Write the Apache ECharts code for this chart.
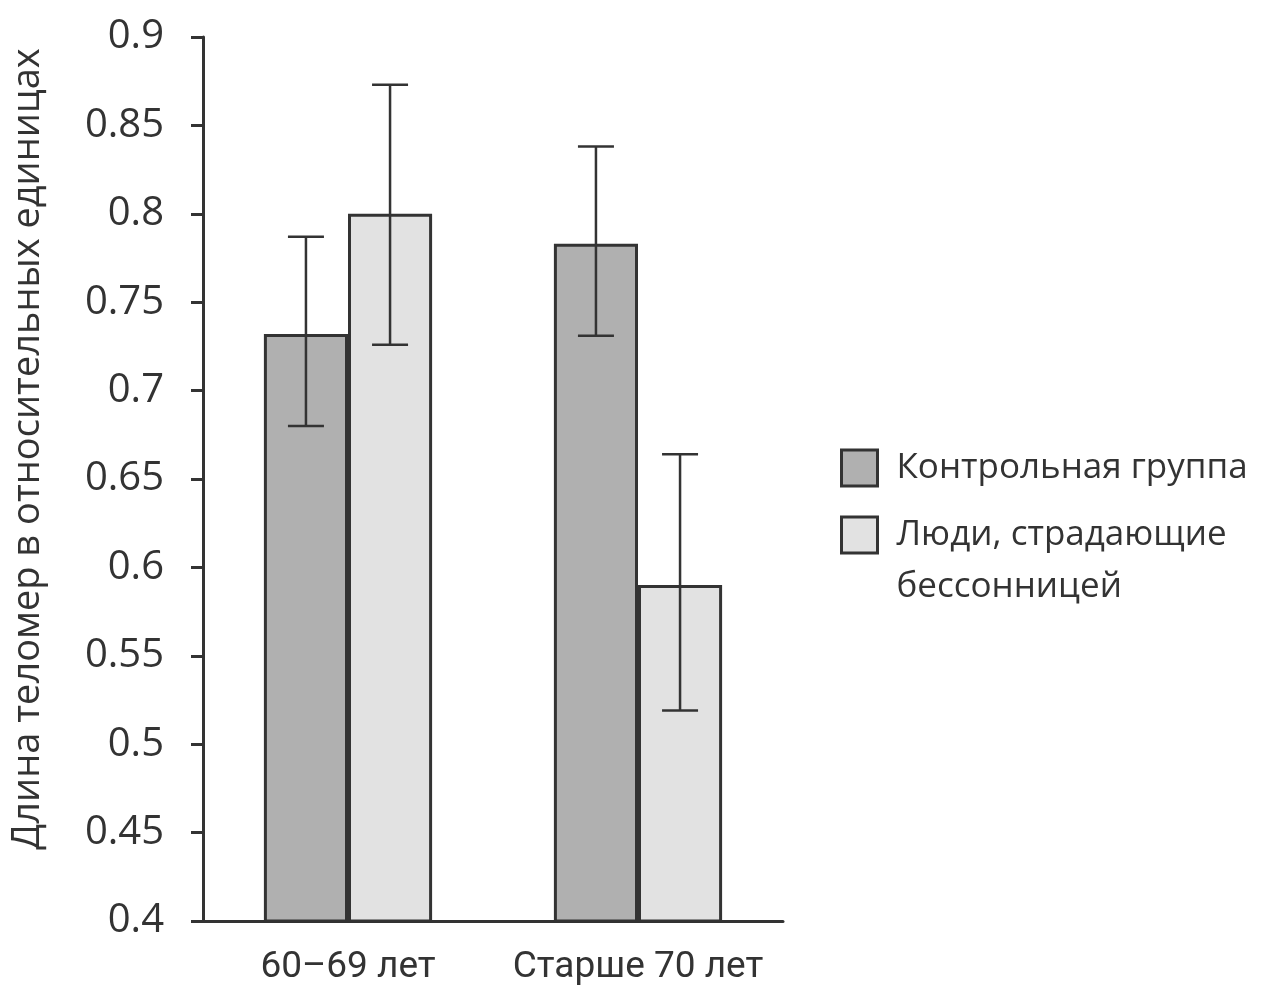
<!DOCTYPE html>
<html>
<head>
<meta charset="utf-8">
<script src="https://cdn.jsdelivr.net/npm/echarts@6/dist/echarts.min.js"></script>
<style>
html,body{margin:0;padding:0;background:#fff;}
#c{width:1266px;height:989px;}
</style>
</head>
<body>
<div id="c"></div>
<script>
const categories = ['60–69 лет', 'Старше 70 лет'];
const seriesNames = ['Контрольная группа', 'Люди, страдающие\nбессонницей'];
const controlValues = [0.732, 0.783];
const controlLow = [0.680, 0.731];
const controlHigh = [0.787, 0.838];
const insomniaValues = [0.800, 0.590];
const insomniaLow = [0.726, 0.519];
const insomniaHigh = [0.873, 0.664];
const yTicks = [0.4, 0.45, 0.5, 0.55, 0.6, 0.65, 0.7, 0.75, 0.8, 0.85, 0.9];
const yAxisTitle = 'Длина теломер в относительных единицах';

const BAR_FRAC = 0.29;
const colors = ['#b0b0b0', '#e2e2e2'];

function errData(low, high) {
  return low.map((l, i) => [i, l, high[i]]);
}
function makeErr(sIdx) {
  return function (params, api) {
    const ci = api.value(0);
    const center = api.coord([ci, 0])[0];
    const band = api.size([1, 0])[0];
    const bw = band * BAR_FRAC;
    const x = center + (sIdx === 0 ? -bw / 2 : bw / 2);
    const yl = api.coord([ci, api.value(1)])[1];
    const yh = api.coord([ci, api.value(2)])[1];
    const cap = 18;
    const st = { stroke: '#333', lineWidth: 2.5, fill: null };
    return {
      type: 'group',
      children: [
        { type: 'line', shape: { x1: x, y1: yl, x2: x, y2: yh }, style: st },
        { type: 'line', shape: { x1: x - cap, y1: yh, x2: x + cap, y2: yh }, style: st },
        { type: 'line', shape: { x1: x - cap, y1: yl, x2: x + cap, y2: yl }, style: st }
      ]
    };
  };
}

const legendText = { fontFamily: 'Open Sans', fontSize: 35, color: '#333', lineHeight: 52, padding: [0, 0, 0, 14] };

const chart = echarts.init(document.getElementById('c'), null, { renderer: 'canvas' });
chart.setOption({
  backgroundColor: '#ffffff',
  animation: false,
  grid: { left: 203, right: 483, top: 37, bottom: 68, containLabel: false },
  legend: [
    {
      data: [seriesNames[0]],
      left: 835, top: 437,
      itemWidth: 36, itemHeight: 36,
      icon: 'rect',
      itemStyle: { borderColor: '#333', borderWidth: 3 },
      textStyle: legendText
    },
    {
      data: [seriesNames[1]],
      left: 835, top: 452,
      itemWidth: 36, itemHeight: 36,
      icon: 'rect',
      formatter: name => '\n' + name,
      itemStyle: { borderColor: '#333', borderWidth: 3 },
      textStyle: legendText
    }
  ],
  xAxis: {
    type: 'category',
    data: categories,
    axisLine: { lineStyle: { color: '#333', width: 3 } },
    axisTick: { show: false },
    axisLabel: { interval: 0, fontFamily: 'Roboto', fontSize: 37, color: '#333', margin: 28 }
  },
  yAxis: {
    type: 'value',
    min: 0.4, max: 0.9, interval: 0.05,
    name: yAxisTitle,
    nameLocation: 'middle',
    nameRotate: 90,
    nameGap: 156,
    nameTextStyle: { fontFamily: 'Open Sans', fontSize: 38, color: '#333', padding: [0, 0, 0, 60] },
    axisLine: { show: true, lineStyle: { color: '#333', width: 3 } },
    axisTick: { show: true, length: 12, lineStyle: { color: '#333', width: 3 } },
    splitLine: { show: false },
    axisLabel: {
      fontFamily: 'Open Sans', fontSize: 40, color: '#333', margin: 39,
      formatter: v => {
        const t = yTicks.find(k => Math.abs(k - v) < 1e-9);
        return t === undefined ? '' : String(t);
      }
    }
  },
  series: [
    {
      name: seriesNames[0], type: 'bar', data: controlValues,
      barWidth: (BAR_FRAC * 100) + '%', barGap: '0%',
      itemStyle: { color: colors[0], borderColor: '#333', borderWidth: 3 }
    },
    {
      name: seriesNames[1], type: 'bar', data: insomniaValues,
      barWidth: (BAR_FRAC * 100) + '%', barGap: '0%',
      itemStyle: { color: colors[1], borderColor: '#333', borderWidth: 3 }
    },
    {
      type: 'custom', renderItem: makeErr(0), data: errData(controlLow, controlHigh),
      encode: { x: 0, y: [1, 2] }, z: 5, silent: true
    },
    {
      type: 'custom', renderItem: makeErr(1), data: errData(insomniaLow, insomniaHigh),
      encode: { x: 0, y: [1, 2] }, z: 5, silent: true
    }
  ]
});
</script>
</body>
</html>
